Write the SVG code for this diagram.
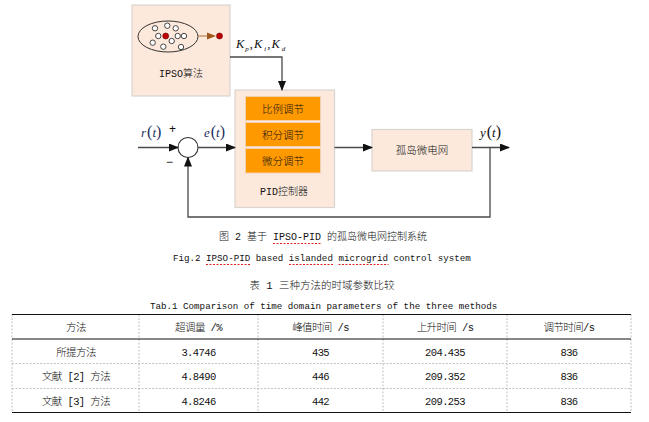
<svg xmlns="http://www.w3.org/2000/svg" width="649" height="422" viewBox="0 0 649 422">
<style>
.box{fill:#FCE9DC;stroke:#D9D4CF;stroke-width:1.2}
.org{fill:#FF9900;stroke:#F3D0AE;stroke-width:1}
.ln{fill:none;stroke:#4a4a4a;stroke-width:1.3}
.cj{font-family:"Liberation Mono","Noto Sans CJK SC",monospace;fill:#111;font-weight:300}
.zh{font-family:"Noto Sans CJK SC",sans-serif;fill:#111;font-weight:300}
.mt{font-family:"Liberation Serif",serif;font-style:italic}
.par{font-family:"Liberation Serif",serif;font-style:normal}
.pt{fill:#fff;stroke:#333;stroke-width:0.9}
.ul{stroke:#e02020;stroke-width:1;stroke-dasharray:2,1.5}
.tb{stroke:#111;stroke-width:1.2}
.td{stroke:#b0b0b0;stroke-width:0.8;stroke-dasharray:2,1.5}
</style>
<defs>
<marker id="ah" markerWidth="10" markerHeight="8" refX="9" refY="4" orient="auto" markerUnits="userSpaceOnUse">
<path d="M0,0 L10,4 L0,8 z" fill="#111"/>
</marker>
</defs>

<g id="ipso">
<rect class="box" x="132" y="5" width="98" height="91"/>
<ellipse cx="168" cy="36.5" rx="30" ry="15.5" fill="none" stroke="#333" stroke-width="1"/>
<circle class="pt" cx="155" cy="28.3" r="2.7"/>
<circle class="pt" cx="167.3" cy="25.7" r="2.7"/>
<circle class="pt" cx="175.7" cy="28.3" r="2.7"/>
<circle class="pt" cx="158.3" cy="36" r="2.7"/>
<circle class="pt" cx="177.7" cy="36" r="2.7"/>
<circle class="pt" cx="184" cy="36" r="2.7"/>
<circle class="pt" cx="152.7" cy="42.7" r="2.7"/>
<circle class="pt" cx="163.3" cy="46.7" r="2.7"/>
<circle class="pt" cx="171.7" cy="41" r="2.7"/>
<circle class="pt" cx="181" cy="47" r="2.7"/>
<circle cx="165.7" cy="36" r="3" fill="#C00000" stroke="#600" stroke-width="0.6"/>
<line x1="198" y1="36" x2="208" y2="36" stroke="#C08050" stroke-width="1.2"/>
<path d="M207,32.5 L216,36 L207,39.5 z" fill="#A0581E"/>
<circle cx="219.5" cy="36" r="3" fill="#C00000" stroke="#600" stroke-width="0.6"/>
<text class="cj" x="181" y="77" font-size="10" text-anchor="middle">IPSO算法</text>
</g>

<g id="pid">
<rect class="box" x="235" y="90" width="99.5" height="117.5"/>
<rect class="org" x="245.5" y="96.5" width="75" height="24"/>
<rect class="org" x="245.5" y="122.5" width="75" height="24"/>
<rect class="org" x="245.5" y="148.5" width="75" height="24.5"/>
<text class="zh" x="283" y="112.5" font-size="10.5" text-anchor="middle">比例调节</text>
<text class="zh" x="283" y="138.5" font-size="10.5" text-anchor="middle">积分调节</text>
<text class="zh" x="283" y="164.5" font-size="10.5" text-anchor="middle">微分调节</text>
<text class="cj" x="284" y="195" font-size="10" text-anchor="middle">PID控制器</text>
</g>

<g id="grid">
<rect class="box" x="372" y="129.5" width="100" height="41.5"/>
<text class="zh" x="422" y="153.5" font-size="10.5" text-anchor="middle">孤岛微电网</text>
</g>

<g id="sum">
<circle cx="188" cy="147.5" r="10" fill="#fff" stroke="#333" stroke-width="1.1"/>
</g>

<g id="connectors">
<polyline class="ln" points="230,57 282,57 282,90" marker-end="url(#ah)"/>
<line class="ln" x1="138" y1="147.5" x2="178" y2="147.5" marker-end="url(#ah)"/>
<line class="ln" x1="198" y1="147.5" x2="235" y2="147.5" marker-end="url(#ah)"/>
<line class="ln" x1="334.5" y1="147.5" x2="372" y2="147.5" marker-end="url(#ah)"/>
<line class="ln" x1="472" y1="147.5" x2="509" y2="147.5" marker-end="url(#ah)"/>
<polyline class="ln" points="490,147.5 490,217 188,217 188,157.5" marker-end="url(#ah)"/>
</g>

<g id="labels">
<text x="236" y="48" font-size="12.5" fill="#111"><tspan class="mt">K</tspan><tspan class="mt" font-size="7" dx="1" dy="3">p</tspan><tspan class="par" dx="1" dy="-3">,</tspan><tspan class="mt" dx="1">K</tspan><tspan class="mt" font-size="7" dx="2" dy="3">i</tspan><tspan class="par" dx="1" dy="-3">,</tspan><tspan class="mt" dx="1">K</tspan><tspan class="mt" font-size="7" dx="2" dy="3">d</tspan></text>
<text x="141" y="137" font-size="13" fill="#1C2F5E"><tspan class="mt">r</tspan><tspan class="par" font-size="16" dx="1">(</tspan><tspan class="mt">t</tspan><tspan class="par" font-size="16">)</tspan></text>
<text x="169" y="133" font-size="12" fill="#111" font-family="Liberation Sans,sans-serif">+</text>
<text x="166" y="166" font-size="12" fill="#111" font-family="Liberation Sans,sans-serif">−</text>
<text x="204" y="137" font-size="13" fill="#1C2F5E"><tspan class="mt">e</tspan><tspan class="par" font-size="16" dx="1">(</tspan><tspan class="mt">t</tspan><tspan class="par" font-size="16">)</tspan></text>
<text x="480" y="137" font-size="13" fill="#111"><tspan class="mt">y</tspan><tspan class="par" font-size="16" dx="1">(</tspan><tspan class="mt">t</tspan><tspan class="par" font-size="16">)</tspan></text>
</g>

<g id="captions">
<text class="cj" x="323" y="240" font-size="10" text-anchor="middle">图 2 基于 IPSO-PID 的孤岛微电网控制系统</text>
<line class="ul" x1="273" y1="243.5" x2="321" y2="243.5"/>
<text class="cj" x="173" y="261" font-size="9.2">Fig.2 IPSO-PID based islanded microgrid control system</text>
<line class="ul" x1="206" y1="264.5" x2="251" y2="264.5"/>
<line class="ul" x1="289" y1="264.5" x2="333" y2="264.5"/>
<line class="ul" x1="338.5" y1="264.5" x2="388.5" y2="264.5"/>
<text class="cj" x="322" y="289" font-size="10.5" text-anchor="middle">表 1 三种方法的时域参数比较</text>
<text class="cj" x="150" y="309" font-size="9.2">Tab.1 Comparison of time domain parameters of the three methods</text>
</g>

<g id="table">
<line class="td" x1="12" y1="314.5" x2="12" y2="412.5"/>
<line class="td" x1="139" y1="314.5" x2="139" y2="412.5"/>
<line class="td" x1="258" y1="314.5" x2="258" y2="412.5"/>
<line class="td" x1="383" y1="314.5" x2="383" y2="412.5"/>
<line class="td" x1="507" y1="314.5" x2="507" y2="412.5"/>
<line class="td" x1="631" y1="314.5" x2="631" y2="412.5"/>
<line class="td" x1="12" y1="363.5" x2="631" y2="363.5"/>
<line class="td" x1="12" y1="388.5" x2="631" y2="388.5"/>
<line class="tb" x1="12" y1="314.5" x2="631" y2="314.5"/>
<line class="tb" x1="12" y1="339" x2="631" y2="339"/>
<line class="tb" x1="12" y1="412.5" x2="631" y2="412.5"/>
<g class="cj" font-size="10.5" text-anchor="middle" letter-spacing="-0.6">
<text x="76" y="331">方法</text>
<text x="198.5" y="331">超调量 /%</text>
<text x="320.5" y="331">峰值时间 /s</text>
<text x="445" y="331">上升时间 /s</text>
<text x="569" y="331">调节时间/s</text>
<text x="76" y="355.5">所提方法</text>
<text x="198.5" y="355.5">3.4746</text>
<text x="320.5" y="355.5">435</text>
<text x="445" y="355.5">204.435</text>
<text x="569" y="355.5">836</text>
<text x="76" y="380">文献 [2] 方法</text>
<text x="198.5" y="380">4.8490</text>
<text x="320.5" y="380">446</text>
<text x="445" y="380">209.352</text>
<text x="569" y="380">836</text>
<text x="76" y="404.5">文献 [3] 方法</text>
<text x="198.5" y="404.5">4.8246</text>
<text x="320.5" y="404.5">442</text>
<text x="445" y="404.5">209.253</text>
<text x="569" y="404.5">836</text>
</g>
</g>
</svg>
